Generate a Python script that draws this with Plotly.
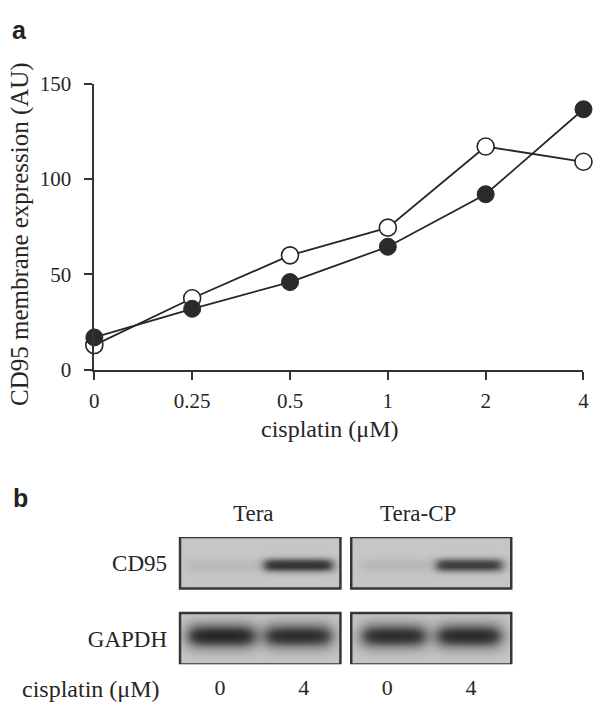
import numpy as np
import plotly.graph_objects as go

# ---------------- data ----------------
cisplatin_uM = ["0", "0.25", "0.5", "1", "2", "4"]
cd95_filled = [17, 32, 46, 64.5, 92, 136.5]
cd95_open = [13, 37.5, 60, 74.5, 117, 109]
y_tick_vals = [0, 50, 100, 150]

blot_cell_lines = ["Tera", "Tera-CP"]
blot_proteins = ["CD95", "GAPDH"]
blot_lane_labels = ["0", "4", "0", "4"]
cd95_tera = [0.07, 0.80]
cd95_teracp = [0.08, 0.74]
gapdh_tera = [0.92, 0.86]
gapdh_teracp = [0.86, 0.88]

SERIF = "Liberation Serif"
SANS = "Liberation Sans"
INK = "#262626"
W, H = 600, 716


def px_x(p):
    return p / W


def px_y(p):
    return 1 - p / H


fig = go.Figure()

# ---------------- panel a ----------------
fig.add_trace(go.Scatter(
    x=cisplatin_uM, y=cd95_open, name="open", mode="lines+markers",
    line=dict(color="#262626", width=1.8),
    marker=dict(size=17, color="white", line=dict(color="#262626", width=1.6)),
    cliponaxis=False, xaxis="x", yaxis="y", showlegend=False))
fig.add_trace(go.Scatter(
    x=cisplatin_uM, y=cd95_filled, name="filled", mode="lines+markers",
    line=dict(color="#262626", width=1.8),
    marker=dict(size=17, color="#2a2a2a", line=dict(color="#2a2a2a", width=1)),
    cliponaxis=False, xaxis="x", yaxis="y", showlegend=False))

# ---------------- panel b (blot) ----------------
x_ranges = {"x2": [-0.537, 1.552], "x3": [-0.561, 1.561]}
ROW_HALF = 0.338


def band_image(intens, row, half_w, half_h, yoff, edge, pw, xr):
    xs = np.linspace(xr[0], xr[1], 240)
    ys = np.linspace(row - ROW_HALF, row + ROW_HALF, 80)
    z = np.zeros((ys.size, xs.size))
    for lane, a in enumerate(intens):
        fx = (1 / (1 + np.exp(-(xs - (lane - half_w)) / edge))) * \
             (1 / (1 + np.exp(-((lane + half_w) - xs) / edge)))
        fy = np.exp(-np.abs((ys - row - yoff) / half_h) ** pw)
        z += a * np.outer(fy, fx)
    return xs, ys, z


blot_sets = [
    ("x2", 0, cd95_tera, 0.45, 0.09, 0.03, 0.04, 2.4),
    ("x3", 0, cd95_teracp, 0.44, 0.09, 0.03, 0.04, 2.4),
    ("x2", 1, gapdh_tera, 0.43, 0.16, -0.04, 0.06, 1.9),
    ("x3", 1, gapdh_teracp, 0.42, 0.16, -0.04, 0.06, 1.9),
]
cscale = [[0, "#c6c6c6"], [0.35, "#8a8a8a"], [0.7, "#444444"], [1, "#1a1a1a"]]
for xa, row, intens, hw, hh, yo, ed, pw in blot_sets:
    xs, ys, z = band_image(intens, row, hw, hh, yo, ed, pw, x_ranges[xa])
    fig.add_trace(go.Heatmap(
        x=xs, y=ys, z=z, zmin=0, zmax=1, colorscale=cscale, showscale=False,
        zsmooth="best", hoverinfo="skip", xaxis=xa, yaxis="y2"))

# invisible carrier trace for the lane-label axis
fig.add_trace(go.Scatter(
    x=list(range(len(blot_lane_labels))), y=[None] * len(blot_lane_labels),
    mode="markers", hoverinfo="skip", xaxis="x4", yaxis="y2",
    showlegend=False))

shapes = []
for xa in ["x2", "x3"]:
    for row in [0, 1]:
        shapes.append(dict(type="rect", xref=f"{xa} domain", yref="y2",
                           x0=0, x1=1, y0=row - ROW_HALF, y1=row + ROW_HALF,
                           line=dict(color="#363636", width=2.5),
                           fillcolor="rgba(0,0,0,0)", layer="above"))

annotations = [
    dict(text="<b>a</b>", x=px_x(15), y=px_y(19), xref="paper", yref="paper",
         showarrow=False, font=dict(family=SANS, size=25, color="#222"),
         xanchor="center", yanchor="middle"),
    dict(text="<b>b</b>", x=px_x(16), y=px_y(503), xref="paper", yref="paper",
         showarrow=False, font=dict(family=SANS, size=25, color="#222"),
         xanchor="center", yanchor="middle"),
    dict(text="CD95 membrane expression (AU)", x=px_x(16), y=px_y(230),
         xref="paper", yref="paper", showarrow=False, textangle=-90,
         font=dict(family=SERIF, size=25, color=INK),
         xanchor="center", yanchor="middle"),
    dict(text="cisplatin (\u03bcM)", x=px_x(331), y=px_y(431), xref="paper",
         yref="paper", showarrow=False,
         font=dict(family=SERIF, size=24, color=INK),
         xanchor="center", yanchor="middle"),
    dict(text=blot_cell_lines[0], x=px_x(253.5), y=px_y(519), xref="paper",
         yref="paper", showarrow=False,
         font=dict(family=SERIF, size=23, color=INK),
         xanchor="center", yanchor="middle"),
    dict(text=blot_cell_lines[1], x=px_x(420.5), y=px_y(519), xref="paper",
         yref="paper", showarrow=False,
         font=dict(family=SERIF, size=23, color=INK),
         xanchor="center", yanchor="middle"),
    dict(text="cisplatin (\u03bcM)", x=px_x(88), y=px_y(700), xref="paper",
         yref="paper", showarrow=False,
         font=dict(family=SERIF, size=24, color=INK),
         xanchor="center", yanchor="middle"),
]

axis_common = dict(showgrid=False, zeroline=False)
blot_x_common = dict(**axis_common, showticklabels=False, ticks="",
                     showline=False, anchor="y2")

fig.update_layout(
    width=W, height=H, autosize=False,
    margin=dict(l=0, r=0, t=0, b=0),
    paper_bgcolor="white", plot_bgcolor="rgba(0,0,0,0)",
    font=dict(family=SERIF, color=INK),
    showlegend=False,
    xaxis=dict(
        **axis_common, type="category", range=[0, 5],
        domain=[px_x(91), px_x(589.3)], anchor="y",
        categoryorder="array", categoryarray=cisplatin_uM,
        showline=True, linecolor="#333", linewidth=2,
        ticks="outside", ticklen=8, tickwidth=2, tickcolor="#333",
        tickfont=dict(family=SERIF, size=21, color=INK),
        ticklabelstandoff=3),
    yaxis=dict(
        **axis_common, range=[0, 150],
        domain=[px_y(370.3), px_y(74)], anchor="x",
        tickvals=y_tick_vals,
        showline=True, linecolor="#333", linewidth=2,
        ticks="outside", ticklen=8, tickwidth=2, tickcolor="#333",
        tickfont=dict(family=SERIF, size=21, color=INK),
        ticklabelstandoff=9),
    xaxis2=dict(**blot_x_common, range=x_ranges["x2"],
                domain=[px_x(178.3), px_x(341.7)]),
    xaxis3=dict(**blot_x_common, range=x_ranges["x3"],
                domain=[px_x(352.7), px_x(515.7)]),
    xaxis4=dict(
        **axis_common, range=[-0.5, len(blot_lane_labels) - 0.5],
        domain=[px_x(176.4), px_x(517.3)], anchor="y2",
        tickvals=list(range(len(blot_lane_labels))),
        ticktext=blot_lane_labels, ticks="", showline=False,
        tickfont=dict(family=SERIF, size=22, color=INK),
        ticklabelstandoff=8),
    yaxis2=dict(
        **axis_common, range=[1 + ROW_HALF, -ROW_HALF],
        domain=[px_y(675), px_y(543.3)], anchor="x2",
        tickvals=[0, 1], ticktext=blot_proteins, ticks="", showline=False,
        tickfont=dict(family=SERIF, size=23, color=INK),
        ticklabelstandoff=12),
    shapes=shapes,
    annotations=annotations,
)

fig.write_html(
    "out.html",
    config={"displayModeBar": False},
    post_script="document.body.style.margin='0';"
                "document.body.style.overflow='hidden';",
)
